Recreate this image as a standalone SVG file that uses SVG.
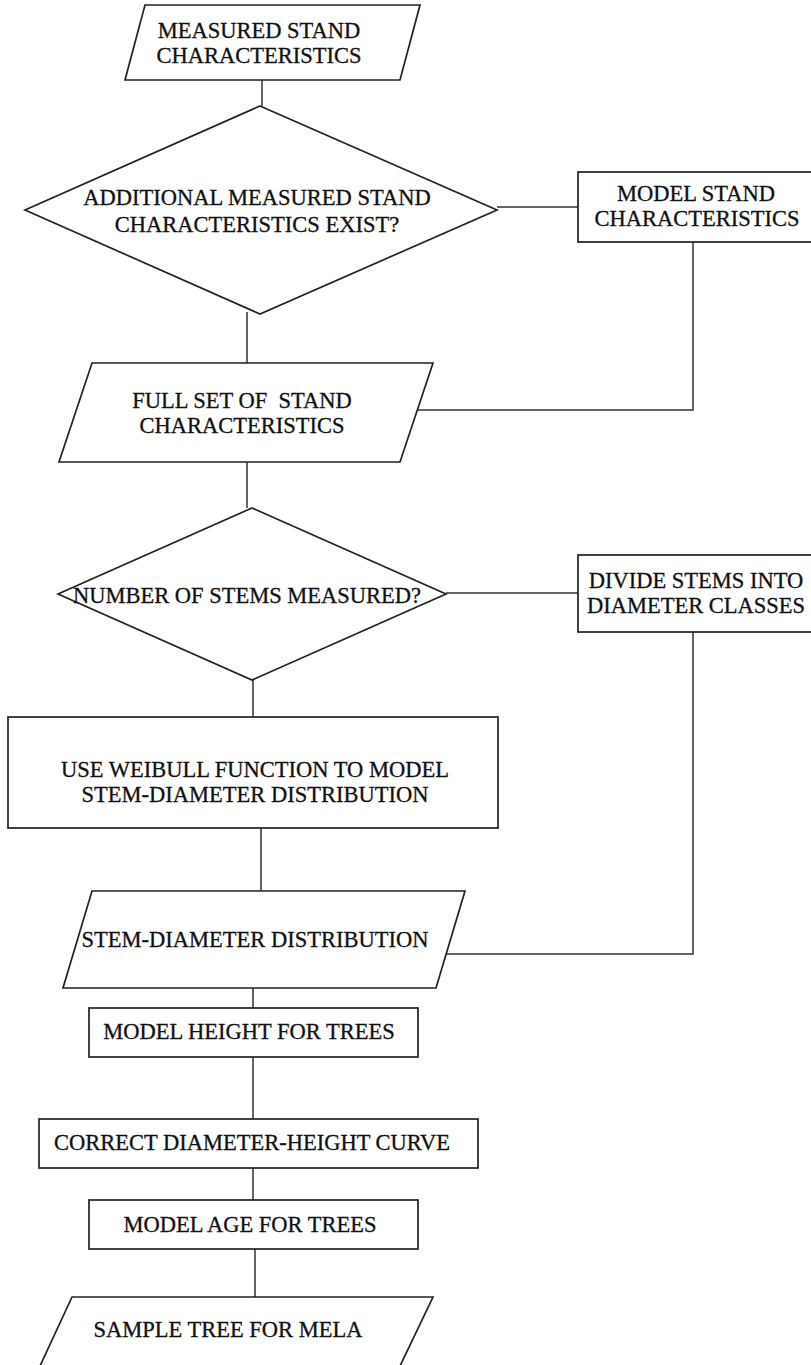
<svg xmlns="http://www.w3.org/2000/svg" width="811" height="1365" viewBox="0 0 811 1365">
  <style>
    .shape { fill: #ffffff; stroke: #222222; stroke-width: 1.7; }
    .wire { fill: none; stroke: #333333; stroke-width: 1.5; }
    text { font-family: "Liberation Serif", "Times New Roman", serif; font-size: 22.5px; fill: #111111; stroke: #111111; stroke-width: 0.3; text-anchor: middle; }
  </style>
  <rect x="0" y="0" width="811" height="1365" fill="#ffffff"/>

  <g id="connectors">
    <polyline class="wire" points="262,80 262,106"/>
    <polyline class="wire" points="497,207 578,207"/>
    <polyline class="wire" points="693,242 693,410 418,410"/>
    <polyline class="wire" points="247,312 247,363"/>
    <polyline class="wire" points="247,462 247,508"/>
    <polyline class="wire" points="446,593 578,593"/>
    <polyline class="wire" points="253,680 253,717"/>
    <polyline class="wire" points="693,632 693,954 447,954"/>
    <polyline class="wire" points="261,828 261,891"/>
    <polyline class="wire" points="253,988 253,1008"/>
    <polyline class="wire" points="253,1057 253,1119"/>
    <polyline class="wire" points="253,1168 253,1200"/>
    <polyline class="wire" points="255,1249 255,1297"/>
  </g>

  <g id="measured-stand">
    <polygon class="shape" points="145,5 420,5 400,80 125,80"/>
    <text x="259" y="38">MEASURED STAND</text>
    <text x="259" y="63">CHARACTERISTICS</text>
  </g>

  <g id="additional-exist">
    <polygon class="shape" points="260,106 497,210 260,314 25,210"/>
    <text x="257" y="205">ADDITIONAL MEASURED STAND</text>
    <text x="257" y="232">CHARACTERISTICS EXIST?</text>
  </g>

  <g id="model-stand">
    <rect class="shape" x="578" y="172" width="240" height="70"/>
    <text x="696" y="201">MODEL STAND</text>
    <text x="697" y="226">CHARACTERISTICS</text>
  </g>

  <g id="full-set">
    <polygon class="shape" points="92,363 433,363 400,462 59,462"/>
    <text x="242" y="408" xml:space="preserve">FULL SET OF  STAND</text>
    <text x="242" y="433">CHARACTERISTICS</text>
  </g>

  <g id="number-of-stems">
    <polygon class="shape" points="252,508 446,594 252,680 58,594"/>
    <text x="247" y="603">NUMBER OF STEMS MEASURED?</text>
  </g>

  <g id="divide-stems">
    <rect class="shape" x="578" y="555" width="240" height="77"/>
    <text x="696" y="588">DIVIDE STEMS INTO</text>
    <text x="696" y="613">DIAMETER CLASSES</text>
  </g>

  <g id="weibull">
    <rect class="shape" x="8" y="717" width="490" height="111"/>
    <text x="255" y="777">USE WEIBULL FUNCTION TO MODEL</text>
    <text x="255" y="802">STEM-DIAMETER DISTRIBUTION</text>
  </g>

  <g id="stem-diameter-distribution">
    <polygon class="shape" points="92,891 465,891 436,988 63,988"/>
    <text x="255" y="947">STEM-DIAMETER DISTRIBUTION</text>
  </g>

  <g id="model-height">
    <rect class="shape" x="89" y="1008" width="329" height="49"/>
    <text x="249" y="1039">MODEL HEIGHT FOR TREES</text>
  </g>

  <g id="correct-curve">
    <rect class="shape" x="39" y="1119" width="439" height="49"/>
    <text x="252" y="1150">CORRECT DIAMETER-HEIGHT CURVE</text>
  </g>

  <g id="model-age">
    <rect class="shape" x="89" y="1200" width="329" height="49"/>
    <text x="250" y="1232">MODEL AGE FOR TREES</text>
  </g>

  <g id="sample-tree">
    <polygon class="shape" points="72,1297 433,1297 400,1366 40,1366"/>
    <text x="228" y="1337">SAMPLE TREE FOR MELA</text>
  </g>
</svg>
